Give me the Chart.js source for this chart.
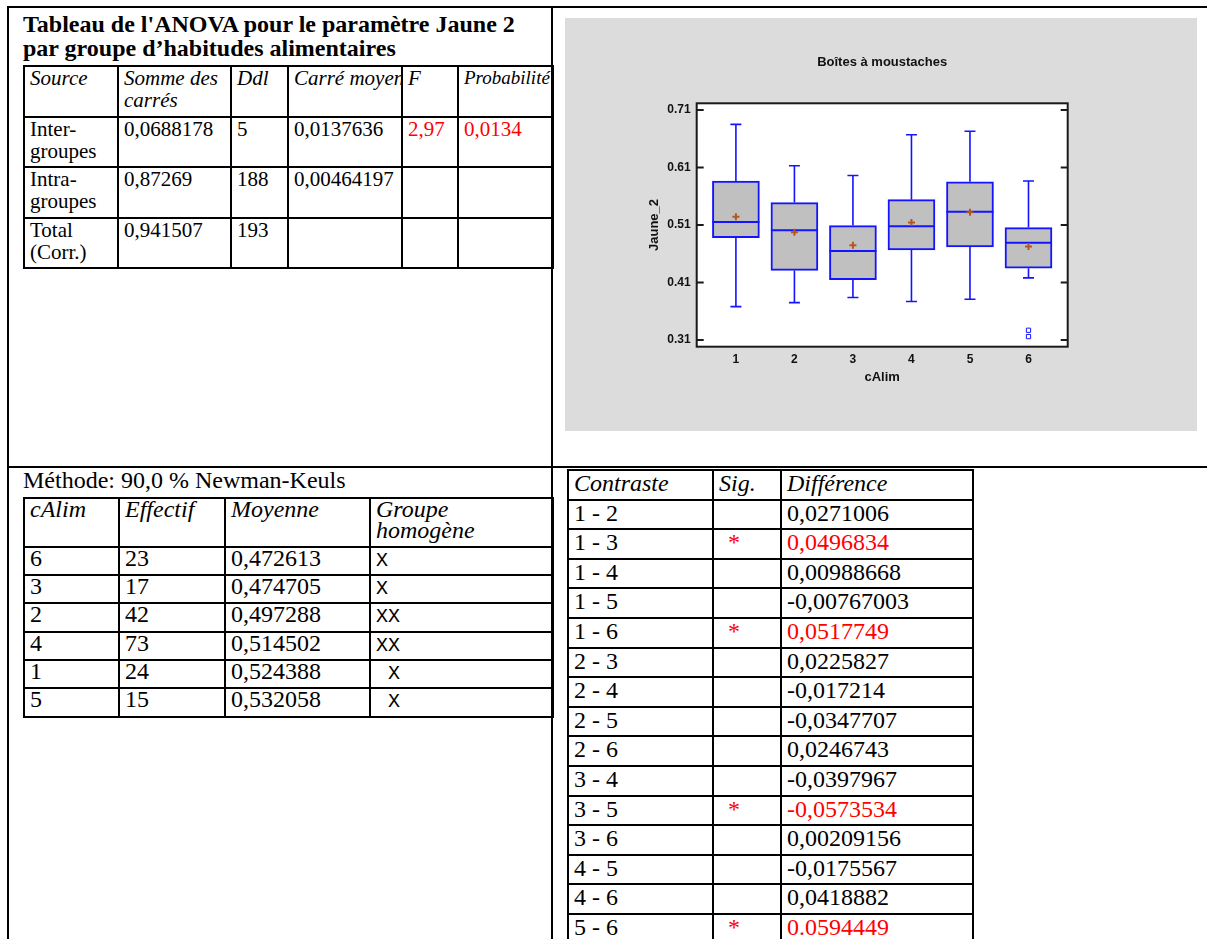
<!DOCTYPE html>
<html lang="fr">
<head>
<meta charset="utf-8">
<title>ANOVA Jaune 2 par cAlim</title>
<script src="https://cdn.jsdelivr.net/npm/chart.js@4.4.0/dist/chart.umd.min.js"></script>
<style>
  html, body { margin: 0; padding: 0; background: #fff; }
  body {
    width: 1207px; height: 939px; overflow: hidden; position: relative;
    font-family: "Liberation Serif", "Times New Roman", serif;
    font-size: 24px; line-height: 24px; color: #000;
  }
  .rule { position: absolute; background: #000; }
  .title { position: absolute; left: 23px; top: 12px; font-weight: bold; white-space: nowrap; }
  .methode { position: absolute; left: 23px; top: 468px; white-space: nowrap; }
  table { position: absolute; border-collapse: collapse; table-layout: fixed; }
  td {
    border: 2px solid #000; padding: 0 2px 3.6px 5px;
    vertical-align: top; overflow: hidden; white-space: nowrap;
  }
  table.anova td { font-size: 21px; line-height: 22px; padding-bottom: 4.5px; }
  table.anova td.small { font-size: 19px; }
  table.nk td { line-height: 20.5px; padding-bottom: 5.8px; }
  table.nk td.x {
    font-family: "Liberation Mono", "Courier New", monospace; font-size: 20px;
    font-weight: 300; white-space: pre; padding-top: 3px; padding-bottom: 2.8px;
  }
  td.h { font-style: italic; }
  .red { color: #ff0000; }
  td.star { padding-left: 14px; }
  #panel { position: absolute; left: 565px; top: 18px; width: 632px; height: 413px; background: #dcdcdc; }
</style>
</head>
<body>

<!-- cadre du tableau Word -->
<div class="rule" style="left:7px; top:6px; width:1200px; height:2px;"></div>
<div class="rule" style="left:7px; top:6px; width:2px; height:933px;"></div>
<div class="rule" style="left:551px; top:6px; width:2px; height:933px;"></div>
<div class="rule" style="left:7px; top:466px; width:1200px; height:2px;"></div>

<div class="title">Tableau de l'ANOVA pour le paramètre Jaune 2<br>par groupe d’habitudes alimentaires</div>

<table class="anova" style="left:23px; top:65px; width:529px;">
  <col style="width:94px"><col style="width:113px"><col style="width:57px">
  <col style="width:114px"><col style="width:56px"><col style="width:95px">
  <tr><td class="h">Source</td><td class="h">Somme des<br>carrés</td><td class="h">Ddl</td>
      <td class="h">Carré moyen</td><td class="h">F</td><td class="h small">Probabilité</td></tr>
  <tr><td>Inter-<br>groupes</td><td>0,0688178</td><td>5</td><td>0,0137636</td>
      <td class="red">2,97</td><td class="red">0,0134</td></tr>
  <tr><td>Intra-<br>groupes</td><td>0,87269</td><td>188</td><td>0,00464197</td><td></td><td></td></tr>
  <tr><td>Total<br>(Corr.)</td><td>0,941507</td><td>193</td><td></td><td></td><td></td></tr>
</table>

<div id="panel"><canvas id="boxChart" width="632" height="413"></canvas></div>

<div class="methode">Méthode: 90,0 % Newman-Keuls</div>
<table class="nk" style="left:23px; top:497px; width:529px;">
  <col style="width:95px"><col style="width:106px"><col style="width:145px"><col style="width:183px">
  <tr><td class="h">cAlim</td><td class="h">Effectif</td><td class="h">Moyenne</td><td class="h">Groupe<br>homogène</td></tr>
  <tr><td>6</td><td>23</td><td>0,472613</td><td class="x">X</td></tr>
  <tr><td>3</td><td>17</td><td>0,474705</td><td class="x">X</td></tr>
  <tr><td>2</td><td>42</td><td>0,497288</td><td class="x">XX</td></tr>
  <tr><td>4</td><td>73</td><td>0,514502</td><td class="x">XX</td></tr>
  <tr><td>1</td><td>24</td><td>0,524388</td><td class="x"> X</td></tr>
  <tr><td>5</td><td>15</td><td>0,532058</td><td class="x"> X</td></tr>
</table>

<table style="left:567px; top:469px; width:405px;">
  <col style="width:145px"><col style="width:68px"><col style="width:192px">
  <tr><td class="h">Contraste</td><td class="h">Sig.</td><td class="h">Différence</td></tr>
  <tr><td>1 - 2</td><td></td><td>0,0271006</td></tr>
  <tr><td>1 - 3</td><td class="star red">*</td><td class="red">0,0496834</td></tr>
  <tr><td>1 - 4</td><td></td><td>0,00988668</td></tr>
  <tr><td>1 - 5</td><td></td><td>-0,00767003</td></tr>
  <tr><td>1 - 6</td><td class="star red">*</td><td class="red">0,0517749</td></tr>
  <tr><td>2 - 3</td><td></td><td>0,0225827</td></tr>
  <tr><td>2 - 4</td><td></td><td>-0,017214</td></tr>
  <tr><td>2 - 5</td><td></td><td>-0,0347707</td></tr>
  <tr><td>2 - 6</td><td></td><td>0,0246743</td></tr>
  <tr><td>3 - 4</td><td></td><td>-0,0397967</td></tr>
  <tr><td>3 - 5</td><td class="star red">*</td><td class="red">-0,0573534</td></tr>
  <tr><td>3 - 6</td><td></td><td>0,00209156</td></tr>
  <tr><td>4 - 5</td><td></td><td>-0,0175567</td></tr>
  <tr><td>4 - 6</td><td></td><td>0,0418882</td></tr>
  <tr><td>5 - 6</td><td class="star red">*</td><td class="red">0.0594449</td></tr>
</table>

<script>
const groups = [1, 2, 3, 4, 5, 6];
const whiskerLow = [0.368, 0.375, 0.384, 0.377, 0.381, 0.418];
const q1 = [0.488, 0.431, 0.415, 0.4665, 0.472, 0.435];
const medians = [0.515, 0.501, 0.465, 0.508, 0.533, 0.479];
const q3 = [0.5865, 0.549, 0.509, 0.554, 0.585, 0.5055];
const whiskerHigh = [0.685, 0.613, 0.596, 0.667, 0.673, 0.5865];
const means = [0.524388, 0.497288, 0.474705, 0.514502, 0.532058, 0.472613];
const outlierGroups = [6, 6];
const outlierValues = [0.327, 0.316];
const yTicks = [0.31, 0.41, 0.51, 0.61, 0.71];

const BLUE = "#1414ff";
const FRAME = "#1a1a1a";
const axisFont = { family: "'Liberation Sans', Arial, sans-serif", size: 12, weight: "bold" };
const titleFont = { family: "'Liberation Sans', Arial, sans-serif", size: 13, weight: "bold" };

const boxExtras = {
  id: "boxExtras",
  beforeDraw(chart) {
    const { ctx, chartArea: a } = chart;
    ctx.save();
    ctx.fillStyle = "#fff";
    ctx.fillRect(a.left, a.top, a.right - a.left, a.bottom - a.top);
    ctx.restore();
  },
  afterDatasetDraw(chart, args) {
    if (args.index !== 0) return;
    const { ctx, scales: { x, y } } = chart;
    ctx.save();
    ctx.strokeStyle = BLUE;
    groups.forEach((g, i) => {
      const cx = x.getPixelForValue(g);
      const half = args.meta.data[i].width / 2;
      ctx.lineWidth = 1.6;
      ctx.beginPath();
      ctx.moveTo(cx, y.getPixelForValue(q3[i]));
      ctx.lineTo(cx, y.getPixelForValue(whiskerHigh[i]));
      ctx.moveTo(cx, y.getPixelForValue(q1[i]));
      ctx.lineTo(cx, y.getPixelForValue(whiskerLow[i]));
      [whiskerHigh[i], whiskerLow[i]].forEach(v => {
        const py = y.getPixelForValue(v);
        ctx.moveTo(cx - 5.5, py);
        ctx.lineTo(cx + 5.5, py);
      });
      ctx.stroke();
      const my = y.getPixelForValue(medians[i]);
      ctx.lineWidth = 2;
      ctx.beginPath();
      ctx.moveTo(cx - half, my);
      ctx.lineTo(cx + half, my);
      ctx.stroke();
    });
    ctx.restore();
  },
  afterDraw(chart) {
    const { ctx, chartArea: a, scales: { y } } = chart;
    ctx.save();
    ctx.strokeStyle = FRAME;
    ctx.lineWidth = 2;
    ctx.strokeRect(a.left, a.top, a.right - a.left, a.bottom - a.top);
    ctx.beginPath();
    yTicks.forEach(v => {
      const py = y.getPixelForValue(v);
      ctx.moveTo(a.left, py); ctx.lineTo(a.left + 7, py);
      ctx.moveTo(a.right, py); ctx.lineTo(a.right - 7, py);
    });
    ctx.stroke();
    ctx.restore();
  }
};

new Chart(document.getElementById("boxChart"), {
  type: "bar",
  data: {
    datasets: [
      {
        type: "bar",
        data: groups.map((g, i) => ({ x: g, y: [q1[i], q3[i]] })),
        backgroundColor: "#c0c0c0",
        borderColor: BLUE,
        borderWidth: 2,
        borderSkipped: false,
        barThickness: 47,
        order: 2
      },
      {
        type: "scatter",
        data: outlierGroups.map((g, i) => ({ x: g, y: outlierValues[i] })),
        pointStyle: "rect",
        radius: 3,
        borderColor: BLUE,
        backgroundColor: "#fff",
        borderWidth: 1,
        order: 1
      },
      {
        type: "scatter",
        data: groups.map((g, i) => ({ x: g, y: means[i] })),
        pointStyle: "cross",
        radius: 3.5,
        borderColor: "#b5561f",
        borderWidth: 2,
        order: 0
      }
    ]
  },
  options: {
    responsive: false,
    animation: false,
    events: [],
    layout: { padding: { left: 0, top: 0, right: 129.3, bottom: 0 } },
    plugins: {
      legend: { display: false },
      tooltip: { enabled: false },
      title: {
        display: true,
        text: "Boîtes à moustaches",
        font: titleFont,
        color: "#111",
        fullSize: false,
        padding: { top: 36.2, bottom: 33.5 }
      }
    },
    scales: {
      x: {
        type: "linear",
        min: 0.33,
        max: 6.67,
        offset: false,
        grid: { display: false, drawTicks: false },
        border: { display: false },
        afterBuildTicks: s => { s.ticks = groups.map(v => ({ value: v })); },
        afterFit: s => { s.height = 84.3; },
        ticks: { font: axisFont, color: "#111", padding: 6, callback: v => String(v) },
        title: { display: true, text: "cAlim", font: titleFont, color: "#111", padding: { top: 0, bottom: 45.9 } }
      },
      y: {
        type: "linear",
        min: 0.2984,
        max: 0.7216,
        grid: { display: false, drawTicks: false },
        border: { display: false },
        afterBuildTicks: s => { s.ticks = yTicks.map(v => ({ value: v })); },
        afterFit: s => { s.width = 131.7; },
        ticks: { font: axisFont, color: "#111", padding: 6, callback: v => v.toFixed(2) },
        title: { display: true, text: "Jaune_2", font: titleFont, color: "#111", padding: { top: 81.5, bottom: 0 } }
      }
    }
  },
  plugins: [boxExtras]
});
</script>
</body>
</html>
